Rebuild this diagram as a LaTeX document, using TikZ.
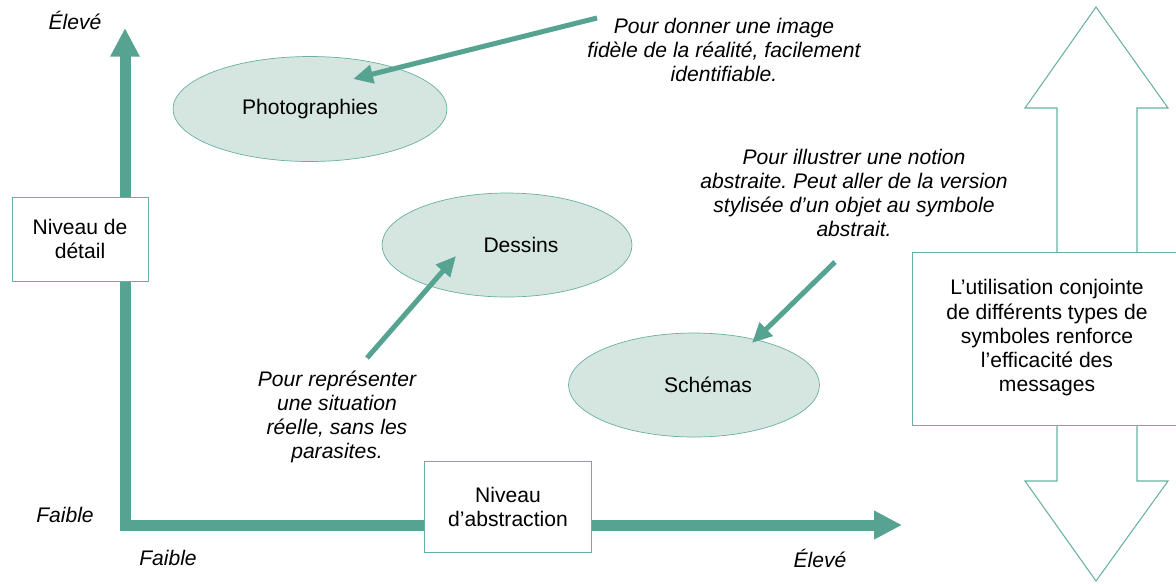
\documentclass[tikz,border=0pt]{standalone}
\usepackage{fontspec}
\setmainfont{Liberation Sans}
\usetikzlibrary{arrows.meta, shapes.geometric}
\frenchspacing

\definecolor{axisgreen}{HTML}{56A392}
\definecolor{linegreen}{HTML}{68B0A0}
\definecolor{blobfill}{HTML}{D5E6E1}

\begin{document}
\begin{tikzpicture}[x=0.02cm, y=-0.02cm,
  every node/.style={font=\fontsize{12}{13.8}\selectfont, align=center},
  axis/.style={draw=axisgreen, line width=0.22cm, line join=miter,
    {Triangle[length=0.57cm,width=0.55cm]}-{Triangle[length=0.56cm,width=0.54cm]}},
  blob/.style={ellipse, draw=linegreen, fill=blobfill, inner sep=0pt},
  labelbox/.style={rectangle, draw=linegreen, fill=white, inner sep=0pt},
  note/.style={font=\fontsize{12}{13.8}\selectfont\itshape},
  notearrow/.style={draw=axisgreen, line width=0.1cm,
    -{Triangle[length=0.4cm,width=0.36cm]}}]
  \useasboundingbox (0,0) rectangle (1176,583);

  % axes
  \coordinate (ytip) at (125,28);
  \coordinate (origin) at (125,525);
  \coordinate (xtip) at (902,525);
  \draw[axis] (ytip) -- (origin) -- (xtip);

  % axis end labels
  \node[note] (yhigh) at (75,20) {Élevé};
  \node[note] (ylow) at (65,515) {Faible};
  \node[note] (xlow) at (168,558) {Faible};
  \node[note] (xhigh) at (820,558) {Élevé};

  % axis titles
  \node[labelbox, minimum width=2.72cm, minimum height=1.68cm] (detail)
    at (80,239) {Niveau de\\détail};
  \node[labelbox, minimum width=3.34cm, minimum height=1.82cm] (abstraction)
    at (508,507) {Niveau\\d’abstraction};

  % the three kinds of symbols
  \node[blob, minimum width=5.48cm, minimum height=2.1cm] (photo)
    at (310,109) {Photographies};
  \node[blob, minimum width=5cm, minimum height=2.08cm,
    label={[xshift=0.28cm]center:Dessins}] (dessins) at (507,245) {};
  \node[blob, minimum width=5.02cm, minimum height=2.08cm,
    label={[xshift=0.28cm]center:Schémas}] (schemas) at (694,385) {};

  % notes and their pointers
  \node[note] (notephoto) at (724,50)
    {Pour donner une image\\fidèle de la réalité, facilement\\identifiable.};
  \node[note] (noteschema) at (854,193)
    {Pour illustrer une notion\\abstraite. Peut aller de la version\\stylisée d’un objet au symbole\\abstrait.};
  \node[note] (notedessin) at (337,417)
    {Pour représenter\\une situation\\réelle, sans les\\parasites.};

  \coordinate (p1) at (597,18);
  \coordinate (p1end) at (353,79);
  \coordinate (p2) at (367,358);
  \coordinate (p2end) at (456,256);
  \coordinate (p3) at (835,262);
  \coordinate (p3end) at (752,343);
  \draw[notearrow] (p1) -- (p1end);
  \draw[notearrow] (p2) -- (p2end);
  \draw[notearrow] (p3) -- (p3end);

  % double arrow on the right
  \draw[draw=linegreen, line width=0.6pt] (1096,7) -- (1168,108) -- (1137,108)
    -- (1137,481) -- (1168,481) -- (1096,581) -- (1025,481) -- (1057,481)
    -- (1057,108) -- (1025,108) -- cycle;
  \draw[draw=linegreen, fill=white] (912,252) rectangle (1190,425);
  \node (combo) at (1047,338)
    {L’utilisation conjointe\\de différents types de\\symboles renforce\\l’efficacité des\\messages};
\end{tikzpicture}
\end{document}
